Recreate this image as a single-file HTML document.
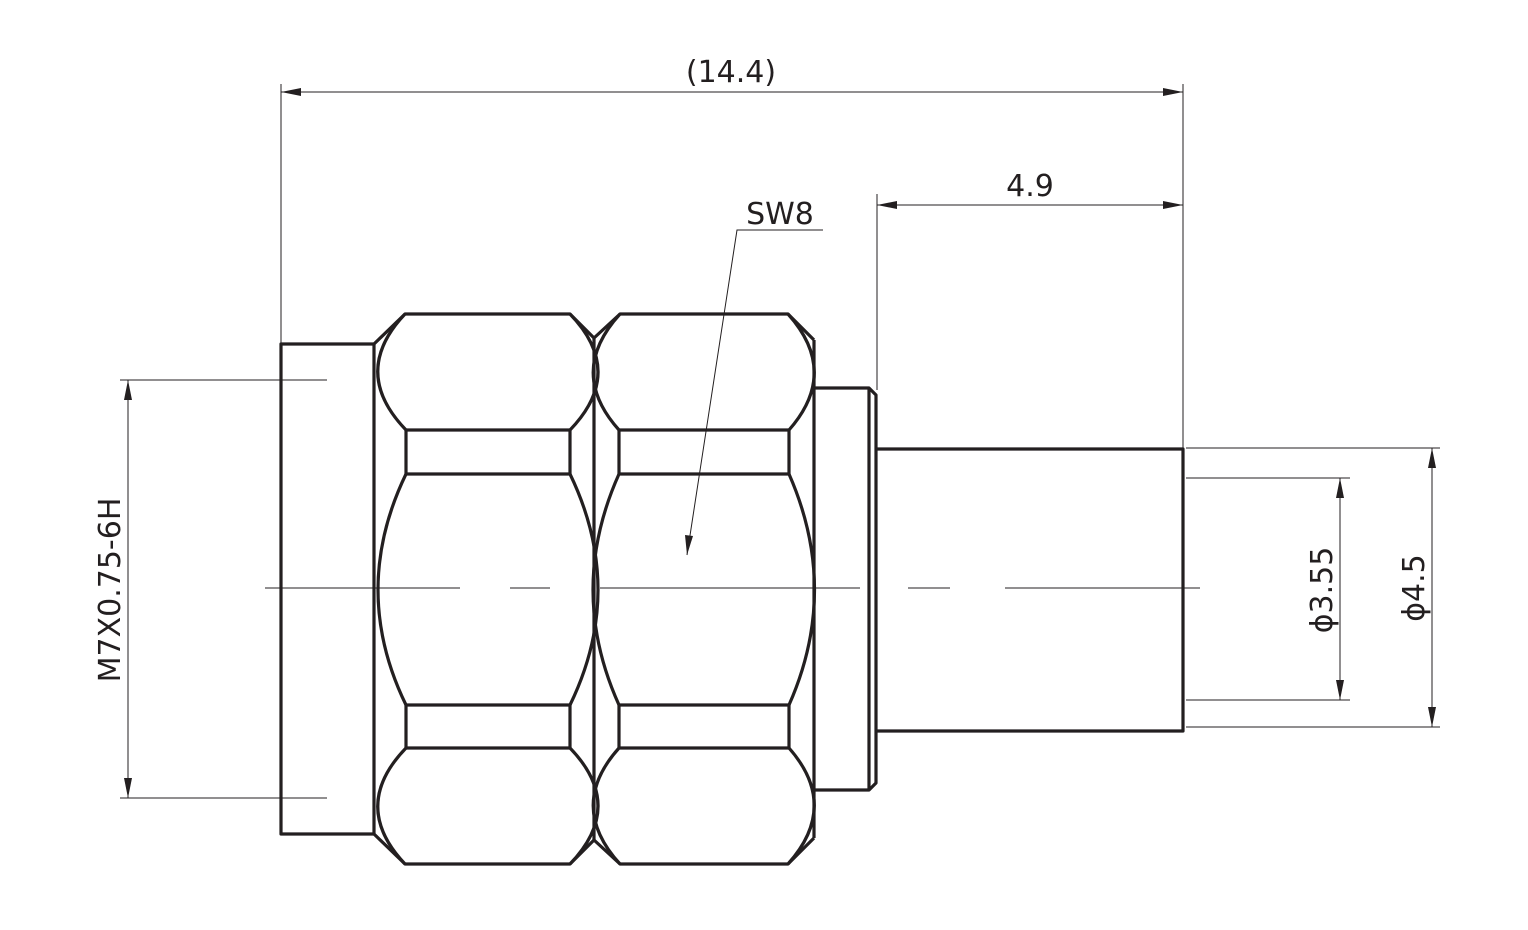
<!DOCTYPE html>
<html><head><meta charset="utf-8"><style>
html,body{margin:0;padding:0;background:#fff;width:1528px;height:930px;overflow:hidden}
svg{display:block}
text{font-family:"DejaVu Sans","Liberation Sans",sans-serif;fill:#231f20}
</style></head><body>
<svg width="1528" height="930" viewBox="0 0 1528 930" xmlns="http://www.w3.org/2000/svg">
<g fill="none" stroke="#231f20" stroke-width="3.2" stroke-linejoin="round">
<!-- left body -->
<path d="M374 344 H281 V834 H374"/>
<line x1="374" y1="344" x2="374" y2="834"/>
<!-- nut1 -->
<path d="M374 344 L405 314 H570 L594 338"/>
<path d="M374 834 L405 864 H570 L594 840"/>
<line x1="594" y1="338" x2="594" y2="840"/>
<rect x="406" y="430" width="164" height="44"/>
<rect x="406" y="705" width="164" height="43"/>
<path d="M406 430 Q350 372 405 314"/><path d="M570 430 Q626 372 570 314"/>
<path d="M406 474 Q350 590 406 705"/><path d="M570 474 Q626 590 570 705"/>
<path d="M406 748 Q350 806 405 864"/><path d="M570 748 Q626 806 570 864"/>
<!-- nut2 -->
<path d="M594 338 L620 314 H788 L814 340"/>
<path d="M594 840 L620 864 H788 L814 838"/>
<line x1="814" y1="340" x2="814" y2="838"/>
<rect x="619" y="430" width="170" height="44"/>
<rect x="619" y="705" width="170" height="43"/>
<path d="M619 430 Q567 372 620 314"/><path d="M789 430 Q840 372 788 314"/>
<path d="M619 474 Q567 590 619 705"/><path d="M789 474 Q840 590 789 705"/>
<path d="M619 748 Q567 806 620 864"/><path d="M789 748 Q840 806 788 864"/>
<!-- flange -->
<path d="M814 388 H869 L876 395 V783 L869 790 H814"/>
<line x1="869" y1="388" x2="869" y2="790"/>
<!-- shaft -->
<path d="M876 449 H1183 V731 H876"/>
</g>
<g stroke="#231f20" stroke-width="1" fill="none">
<!-- center line -->
<path d="M265 588 H460 M510 588 H550 M600 588 H860 M908 588 H950 M1005 588 H1200"/>
<!-- top dim -->
<line x1="281" y1="84" x2="281" y2="344"/>
<line x1="1183" y1="84" x2="1183" y2="449"/>
<line x1="281" y1="92" x2="1183" y2="92"/>
<line x1="877" y1="194" x2="877" y2="390"/>
<line x1="877" y1="205" x2="1183" y2="205"/>
<!-- SW8 leader -->
<path d="M823 230 H737 L687 555"/>
<!-- left dim -->
<path d="M120 380 H327 M120 798 H327"/>
<line x1="128" y1="380" x2="128" y2="798"/>
<!-- right dims -->
<path d="M1186 478 H1350 M1186 700 H1350 M1186 448 H1440 M1186 727 H1440"/>
<line x1="1340" y1="478" x2="1340" y2="700"/>
<line x1="1432" y1="448" x2="1432" y2="727"/>
</g>
<g fill="#231f20">
<path d="M281 92 l20 -4 v8z"/><path d="M1183 92 l-20 -4 v8z"/>
<path d="M877 205 l20 -4 v8z"/><path d="M1183 205 l-20 -4 v8z"/>
<path d="M687 555 l-2 -20 l8 1z"/>
<path d="M128 380 l-4 20 h8z"/><path d="M128 798 l-4 -20 h8z"/>
<path d="M1340 478 l-4 20 h8z"/><path d="M1340 700 l-4 -20 h8z"/>
<path d="M1432 448 l-4 20 h8z"/><path d="M1432 727 l-4 -20 h8z"/>
</g>
<text x="731" y="82" font-size="30" text-anchor="middle">(14.4)</text>
<text x="1030" y="196" font-size="30" text-anchor="middle">4.9</text>
<text x="780" y="224" font-size="30" text-anchor="middle">SW8</text>
<text transform="translate(120,590) rotate(-90)" font-size="30" text-anchor="middle">M7X0.75-6H</text>
<text transform="translate(1332,590) rotate(-90)" font-size="30" text-anchor="middle">ϕ3.55</text>
<text transform="translate(1424,588) rotate(-90)" font-size="30" text-anchor="middle">ϕ4.5</text>
</svg>
</body></html>
